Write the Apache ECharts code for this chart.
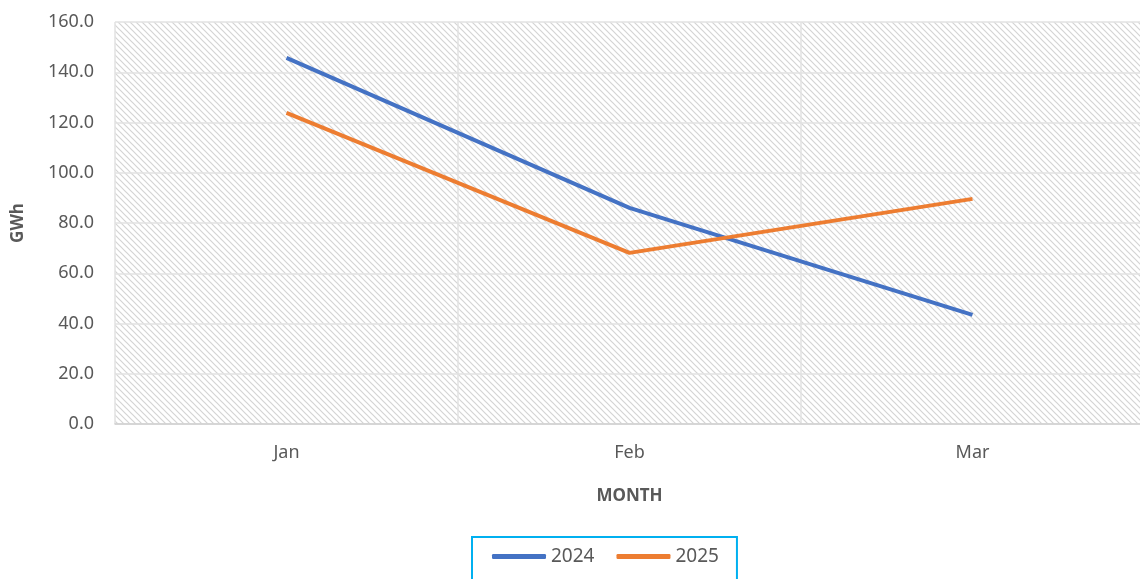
<!DOCTYPE html>
<html>
<head>
<meta charset="utf-8">
<script src="https://cdn.jsdelivr.net/npm/echarts@6/dist/echarts.min.js"></script>
<style>
  html, body { margin: 0; padding: 0; background: #fff; }
  #chart { width: 1140px; height: 579px; }
</style>
</head>
<body>
<div id="chart"></div>
<script>
const months = ['Jan', 'Feb', 'Mar'];
const gwh2024 = [145.7, 86.0, 43.4];
const gwh2025 = [123.8, 68.1, 89.6];

// diagonal hatch used behind the plot
const tile = document.createElement('canvas');
tile.width = 6;
tile.height = 6;
const ctx = tile.getContext('2d');
ctx.fillStyle = '#ffffff';
ctx.fillRect(0, 0, 6, 6);
ctx.strokeStyle = '#d4d4d4';
ctx.lineWidth = 1.2;
ctx.beginPath();
ctx.moveTo(-1, -1); ctx.lineTo(7, 7);
ctx.moveTo(-4, 2); ctx.lineTo(4, 10);
ctx.moveTo(2, -4); ctx.lineTo(10, 4);
ctx.stroke();

const font = 'Noto Sans';
const chart = echarts.init(document.getElementById('chart'));

chart.setOption({
  animation: false,
  textStyle: { fontFamily: font },
  grid: {
    left: 115, top: 22, width: 1029, height: 402,
    outerBoundsMode: 'none',
    containLabel: false,
    show: true,
    borderWidth: 0,
    backgroundColor: { image: tile, repeat: 'repeat' }
  },
  legend: {
    left: 472, top: 537,
    padding: [10, 18, 14, 20],
    borderColor: '#00b0f0',
    borderWidth: 2,
    icon: 'roundRect',
    itemWidth: 54,
    itemHeight: 5,
    itemGap: 22,
    textStyle: { fontSize: 19, color: '#595959', fontFamily: font }
  },
  xAxis: {
    type: 'category',
    data: months,
    boundaryGap: true,
    name: 'MONTH',
    nameLocation: 'middle',
    nameGap: 64,
    nameTextStyle: { fontSize: 17, fontWeight: 'bold', color: '#595959' },
    axisLine: { lineStyle: { color: '#d0d0d0', width: 1.5 } },
    axisTick: { show: false },
    axisLabel: { fontSize: 18, color: '#595959', margin: 20 },
    splitLine: { show: true, lineStyle: { color: '#e2e2e2', width: 1.5 } }
  },
  yAxis: {
    type: 'value',
    min: 0, max: 160, interval: 20,
    name: 'GWh',
    nameLocation: 'middle',
    nameGap: 88,
    nameRotate: 90,
    nameTextStyle: { fontSize: 17, fontWeight: 'bold', color: '#595959' },
    axisLine: { show: false },
    axisTick: { show: false },
    axisLabel: { fontSize: 18, color: '#595959', margin: 21, formatter: v => v.toFixed(1) },
    splitLine: { lineStyle: { color: '#e2e2e2', width: 1.5 } }
  },
  series: [
    {
      name: '2024', type: 'line', data: gwh2024,
      symbol: 'none',
      lineStyle: { color: '#4472c4', width: 4 },
      itemStyle: { color: '#4472c4' }
    },
    {
      name: '2025', type: 'line', data: gwh2025,
      symbol: 'none',
      lineStyle: { color: '#ed7d31', width: 4 },
      itemStyle: { color: '#ed7d31' }
    }
  ]
});
</script>
</body>
</html>
